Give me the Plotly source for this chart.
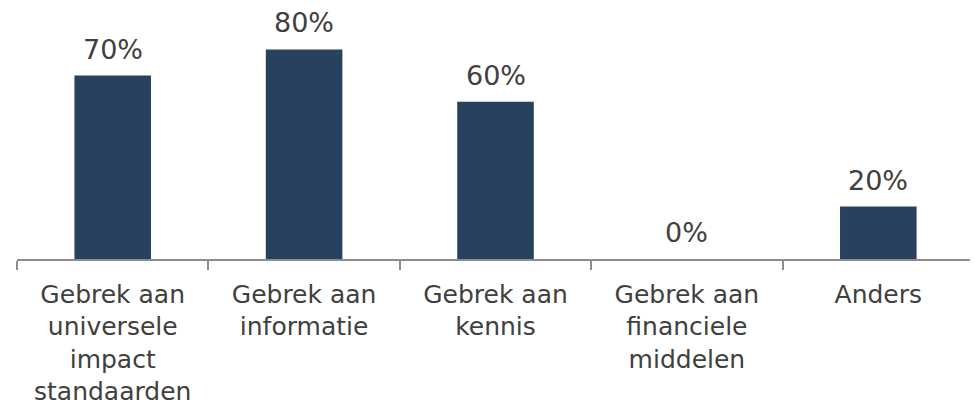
import plotly.graph_objects as go

categories = [
    "Gebrek aan<br>universele<br>impact<br>standaarden",
    "Gebrek aan<br>informatie",
    "Gebrek aan<br>kennis",
    "Gebrek aan<br>financiele<br>middelen",
    "Anders",
]
values = [70, 80, 60, 0, 20]

bar_color = "#27415F"
text_color = "#404040"
font_family = "DejaVu Sans, Verdana, sans-serif"

fig = go.Figure()
fig.add_trace(go.Bar(
    x=categories,
    y=values,
    marker=dict(color=bar_color, line=dict(width=0)),
    width=0.4,
    hoverinfo="skip",
))

for c, v in zip(categories, values):
    fig.add_annotation(
        x=c, y=v, xref="x", yref="y",
        text=f"{v}%",
        showarrow=False,
        yanchor="bottom",
        yshift=9,
        font=dict(family=font_family, size=27, color=text_color),
    )

fig.update_layout(
    width=970, height=398,
    margin=dict(l=9, r=4, t=0, b=147),
    paper_bgcolor="white",
    plot_bgcolor="white",
    showlegend=False,
    font=dict(family=font_family, color=text_color),
)
fig.update_xaxes(
    showline=True, linecolor="#8C8C8C", linewidth=1.5,
    ticks="outside", tickson="boundaries", ticklen=9, tickcolor="#8C8C8C", tickwidth=1.5,
    ticklabelstandoff=12,
    tickfont=dict(family=font_family, size=25, color=text_color),
    showgrid=False, zeroline=False,
)
fig.update_yaxes(visible=False, range=[0, 95.8], showgrid=False, zeroline=False)

fig.write_html("out.html")
